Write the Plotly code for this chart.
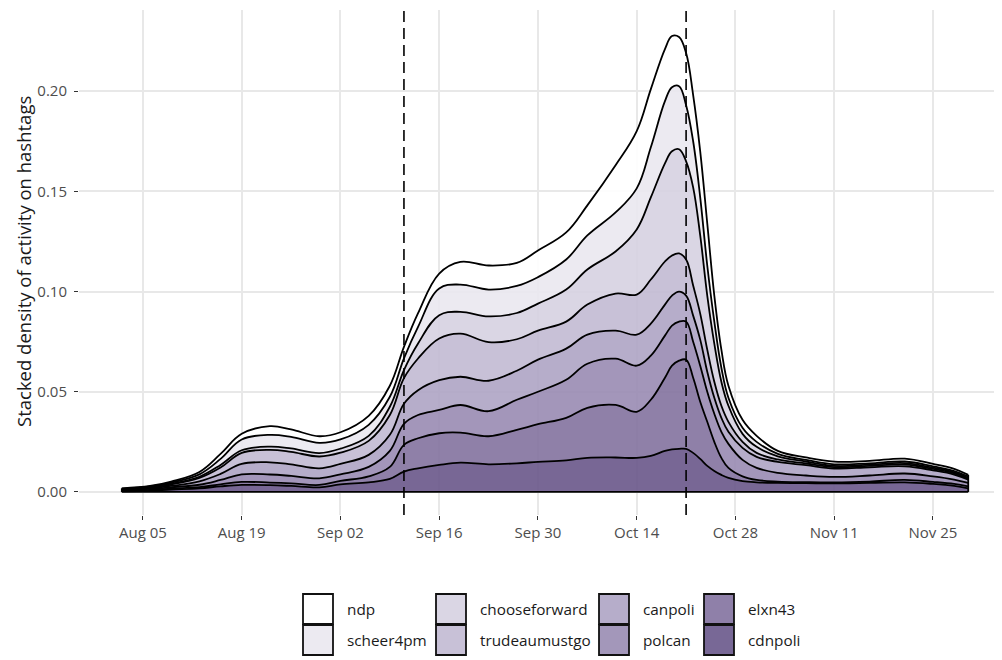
import plotly.graph_objects as go

# ---------------- data (stacked upper edge of each band) ----------------
dates = ["2019-08-02", "2019-08-06", "2019-08-09", "2019-08-13", "2019-08-16", "2019-08-19",
         "2019-08-23", "2019-08-26", "2019-08-30", "2019-09-02", "2019-09-06", "2019-09-09",
         "2019-09-11", "2019-09-13", "2019-09-16", "2019-09-19", "2019-09-23", "2019-09-27",
         "2019-09-30", "2019-10-04", "2019-10-07", "2019-10-11", "2019-10-14", "2019-10-16",
         "2019-10-18", "2019-10-19", "2019-10-20", "2019-10-21", "2019-10-22", "2019-10-23",
         "2019-10-24", "2019-10-25", "2019-10-26", "2019-10-27", "2019-10-29", "2019-10-31",
         "2019-11-03", "2019-11-07", "2019-11-11", "2019-11-16", "2019-11-21", "2019-11-25",
         "2019-11-28", "2019-11-30"]

cdnpoli_top = [.0003, .0007, .0012, .0018, .0028, .0035, .0034, .0030, .0023, .0038, .0048, .0065,
               .0101, .0118, .0135, .0146, .0138, .0143, .0150, .0158, .0170, .0172, .0170, .0180,
               .0205, .0212, .0215, .0215, .0195, .0165, .0130, .0105, .0085, .0070, .0054, .0048,
               .0045, .0044, .0043, .0045, .0048, .0040, .0030, .0018]
elxn43_top = [.0005, .0010, .0016, .0024, .0038, .0050, .0047, .0043, .0035, .0055, .0078, .0125,
              .0235, .0268, .0293, .0296, .0278, .0310, .0338, .0370, .0420, .0434, .0400, .0460,
              .0570, .0630, .0655, .0660, .0570, .0450, .0350, .0250, .0170, .0120, .0078, .0060,
              .0052, .0049, .0048, .0052, .0060, .0050, .0040, .0028]
polcan_top = [.0008, .0015, .0023, .0036, .0060, .0088, .0087, .0080, .0068, .0088, .0125, .0205,
              .0340, .0384, .0409, .0434, .0403, .0460, .0500, .0560, .0640, .0665, .0630, .0680,
              .0780, .0830, .0850, .0850, .0750, .0630, .0500, .0390, .0300, .0240, .0160, .0120,
              .0095, .0082, .0075, .0082, .0092, .0078, .0062, .0045]
canpoli_top = [.0010, .0019, .0030, .0053, .0090, .0140, .0148, .0138, .0118, .0140, .0185, .0285,
               .0440, .0508, .0558, .0575, .0555, .0605, .0660, .0715, .0785, .0805, .0785, .0840,
               .0935, .0980, .1000, .0980, .0880, .0760, .0600, .0470, .0370, .0300, .0220, .0175,
               .0150, .0134, .0117, .0123, .0128, .0108, .0087, .0061]
trudeaumustgo_top = [.0012, .0023, .0037, .0070, .0122, .0195, .0210, .0200, .0177, .0196, .0255, .0384,
                     .0568, .0666, .0766, .0790, .0748, .0762, .0805, .0850, .0935, .0990, .0985, .1060,
                     .1150, .1180, .1190, .1160, .1030, .0890, .0710, .0550, .0430, .0350, .0250, .0195,
                     .0162, .0142, .0124, .0130, .0137, .0115, .0093, .0066]
chooseforward_top = [.0014, .0025, .0041, .0076, .0135, .0208, .0226, .0217, .0194, .0216, .0280, .0425,
                     .0608, .0741, .0882, .0899, .0876, .0893, .0940, .1010, .1110, .1200, .1310, .1470,
                     .1640, .1700, .1710, .1650, .1520, .1280, .0980, .0740, .0550, .0430, .0290, .0225,
                     .0178, .0152, .0130, .0136, .0144, .0121, .0098, .0071]
scheer4pm_top = [.0016, .0028, .0047, .0088, .0165, .0262, .0285, .0275, .0245, .0262, .0335, .0475,
                 .0667, .0824, .1015, .1035, .1010, .1028, .1072, .1160, .1280, .1395, .1515, .1720,
                 .1950, .2020, .2025, .1930, .1750, .1470, .1130, .0850, .0620, .0470, .0320, .0250,
                 .0190, .0160, .0138, .0143, .0152, .0128, .0104, .0077]
ndp_top = [.0018, .0030, .0052, .0100, .0190, .0290, .0328, .0312, .0278, .0298, .0380, .0530,
           .0724, .0892, .1090, .1148, .1130, .1143, .1205, .1295, .1430, .1630, .1800, .2010,
           .2210, .2275, .2270, .2190, .1980, .1700, .1340, .0980, .0710, .0530, .0360, .0280,
           .0205, .0172, .0151, .0155, .0166, .0140, .0115, .0085]

series_names = ["cdnpoli", "elxn43", "polcan", "canpoli",
                "trudeaumustgo", "chooseforward", "scheer4pm", "ndp"]
series_tops = [cdnpoli_top, elxn43_top, polcan_top, canpoli_top,
               trudeaumustgo_top, chooseforward_top, scheer4pm_top, ndp_top]
fill_colors = ["#786896", "#8F80A9", "#A397BA", "#B6ADCA",
               "#C8C1D7", "#DAD6E4", "#ECEAF1", "#FFFFFF"]

event_dates = ["2019-09-11", "2019-10-21"]

x_tick_vals = ["2019-08-05", "2019-08-19", "2019-09-02", "2019-09-16", "2019-09-30",
               "2019-10-14", "2019-10-28", "2019-11-11", "2019-11-25"]
x_tick_text = ["Aug 05", "Aug 19", "Sep 02", "Sep 16", "Sep 30",
               "Oct 14", "Oct 28", "Nov 11", "Nov 25"]
y_tick_vals = [0.0, 0.05, 0.10, 0.15, 0.20]
y_tick_text = ["0.00", "0.05", "0.10", "0.15", "0.20"]
y_title = "Stacked density of activity on hashtags"

# ---------------- figure geometry ----------------
FONT = "Open Sans"
W, H = 1002, 660
OFF = 8                      # the page body puts the figure 8px in from the window corner
PANEL_L, PANEL_T, PANEL_B = 79, 10, 515   # panel edges as seen in the window
ML = PANEL_L - OFF
MT = PANEL_T - OFF
MB = H - (PANEL_B - OFF)
MR = 0
pw, ph = W - ML - MR, H - MT - MB


def px_to_paper_x(px):
    return (px - OFF - ML) / pw


def px_to_paper_y(py):
    return (H - MB - (py - OFF)) / ph


def rgba(hex_color, a):
    h = hex_color.lstrip("#")
    rgb = [int(h[k:k + 2], 16) for k in (0, 2, 4)]
    # pre-compensate so that the colour seen over white matches hex_color
    comp = [max(0, min(255, round((v - (1 - a) * 255) / a))) for v in rgb]
    return f"rgba({comp[0]},{comp[1]},{comp[2]},{a})"


LW = 1.8
fig = go.Figure()
for i, (name, top, col) in enumerate(zip(series_names, series_tops, fill_colors)):
    fig.add_trace(go.Scatter(
        x=dates, y=top, name=name, mode="lines",
        line=dict(color="black", width=LW, shape="spline", smoothing=1.1),
        fill="tozeroy" if i == 0 else "tonexty",
        fillcolor=rgba(col, 0.9),
        showlegend=False, hoverinfo="x+y+name",
    ))

# polygon outline: baseline and closing edges
fig.add_trace(go.Scatter(x=[dates[0], dates[-1]], y=[0, 0], mode="lines",
                         line=dict(color="black", width=LW), showlegend=False, hoverinfo="skip"))
fig.add_trace(go.Scatter(x=[dates[-1], dates[-1]], y=[0, ndp_top[-1]], mode="lines",
                         line=dict(color="black", width=LW), showlegend=False, hoverinfo="skip"))
fig.add_trace(go.Scatter(x=[dates[0], dates[0]], y=[0, ndp_top[0]], mode="lines",
                         line=dict(color="black", width=LW), showlegend=False, hoverinfo="skip"))

shapes = []
for d in event_dates:
    shapes.append(dict(type="line", xref="x", yref="paper", x0=d, x1=d, y0=0, y1=1,
                       line=dict(color="black", width=1.6, dash="11px,6px"), layer="above"))

# ---------------- manual legend (2 rows x 4 columns, column-major) ----------------
legend_order = series_names[::-1]
legend_colors = fill_colors[::-1]
key_left = [303, 436, 599, 704]
text_left = [345, 478, 641, 746]
row_top = [594, 625]
KEY = 30
annotations = []
for i, (name, col) in enumerate(zip(legend_order, legend_colors)):
    c, r = i // 2, i % 2
    x0, y0 = key_left[c], row_top[r]
    shapes.append(dict(type="rect", xref="paper", yref="paper",
                       x0=px_to_paper_x(x0), x1=px_to_paper_x(x0 + KEY),
                       y0=px_to_paper_y(y0 + KEY), y1=px_to_paper_y(y0),
                       fillcolor=col, line=dict(color="#111111", width=1.8)))
    annotations.append(dict(xref="paper", yref="paper", x=px_to_paper_x(text_left[c]),
                            y=px_to_paper_y(y0 + KEY / 2), text=name, showarrow=False,
                            xanchor="left", yanchor="middle",
                            font=dict(family=FONT, size=15.3, color="#1a1a1a")))

# y-axis title as rotated text left of the tick labels
annotations.append(dict(xref="paper", yref="paper", x=px_to_paper_x(23),
                        y=px_to_paper_y(262), text=y_title, textangle=-90,
                        showarrow=False, xanchor="center", yanchor="middle",
                        font=dict(family=FONT, size=18.5, color="#1a1a1a")))

# x range: panel spans window x 79 .. 1010 (Aug 05 at 143, Nov 25 at 933)
fig.update_layout(
    width=W, height=H,
    margin=dict(l=ML, r=MR, t=MT, b=MB, pad=0, autoexpand=False),
    paper_bgcolor="white", plot_bgcolor="white",
    font=dict(family=FONT, color="#4d4d4d"),
    shapes=shapes, annotations=annotations, showlegend=False,
    xaxis=dict(type="date", range=["2019-07-26 22:20", "2019-12-05 22:05"],
               tickvals=x_tick_vals, ticktext=x_tick_text,
               showgrid=True, gridcolor="#e8e8e8", gridwidth=1.5,
               ticks="outside", ticklen=4, tickwidth=1, tickcolor="#333333",
               ticklabelstandoff=0,
               tickfont=dict(family=FONT, size=15, color="#4d4d4d"),
               showline=False, zeroline=False, fixedrange=True, automargin=False),
    yaxis=dict(range=[-0.0115, 0.2405], tickvals=y_tick_vals, ticktext=y_tick_text,
               showgrid=True, gridcolor="#e8e8e8", gridwidth=1.5,
               ticks="outside", ticklen=4, tickwidth=1, tickcolor="#333333",
               ticklabelstandoff=4,
               tickfont=dict(family=FONT, size=15, color="#4d4d4d"),
               showline=False, zeroline=False, fixedrange=True, automargin=False),
)

fig.write_html("out.html")
